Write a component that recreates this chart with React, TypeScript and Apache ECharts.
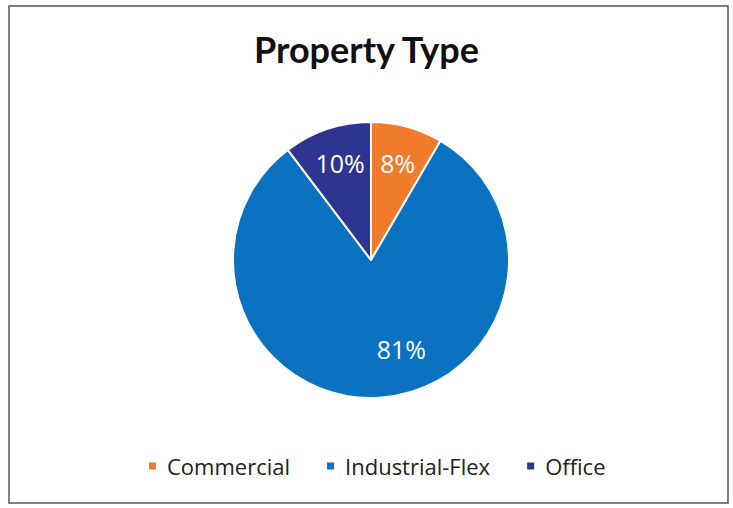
import React, { useEffect, useRef } from "react";
import * as echarts from "echarts";

const categories = ["Commercial", "Industrial-Flex", "Office"];
const values = [8.4, 81.3, 10.3];
const colors = ["#EF7B2B", "#0B71C1", "#2D3591"];
const labelShift = [
  [8, -27],
  [26, 17],
  [-8, -29],
];

export default function App() {
  const ref = useRef<HTMLDivElement>(null);
  useEffect(() => {
    if (!ref.current) return;
    const chart = echarts.init(ref.current, null, { renderer: "svg" });
    chart.setOption({
      animation: false,
      backgroundColor: "#ffffff",
      title: {
        text: "Property Type",
        left: "center",
        top: 26,
        textStyle: {
          fontFamily: "Lato",
          fontWeight: "bold",
          fontSize: 36,
          color: "#111111",
        },
      },
      graphic: [
        {
          type: "rect",
          shape: { x: 9, y: 6, width: 719, height: 497 },
          style: { fill: "none", stroke: "#555555", lineWidth: 1.5 },
          silent: true,
        },
      ],
      legend: {
        bottom: 26,
        left: 142,
        itemWidth: 9,
        itemHeight: 9,
        itemGap: 35,
        icon: "rect",
        textStyle: {
          fontFamily: "Open Sans",
          fontSize: 22,
          color: "#222222",
          padding: [0, 0, 0, 5],
        },
        data: categories,
      },
      series: [
        {
          type: "pie",
          center: [371, 260],
          radius: 138,
          startAngle: 90,
          clockwise: true,
          data: categories.map((c, i) => ({
            name: c,
            value: values[i],
            itemStyle: { color: colors[i] },
          })),
          itemStyle: { borderColor: "#ffffff", borderWidth: 2 },
          label: {
            show: true,
            position: "inside",
            formatter: (p: any) => Math.round(p.percent) + "%",
            color: "#ffffff",
            fontFamily: "Open Sans",
            fontSize: 25,
          },
          labelLine: { show: false },
          labelLayout: (p: any) => ({
            dx: labelShift[p.dataIndex][0],
            dy: labelShift[p.dataIndex][1],
          }),
          emphasis: { disabled: true },
        },
      ],
    });
    return () => chart.dispose();
  }, []);
  return (
    <div
      ref={ref}
      style={{ position: "fixed", left: 0, top: 0, width: 733, height: 508 }}
    />
  );
}
